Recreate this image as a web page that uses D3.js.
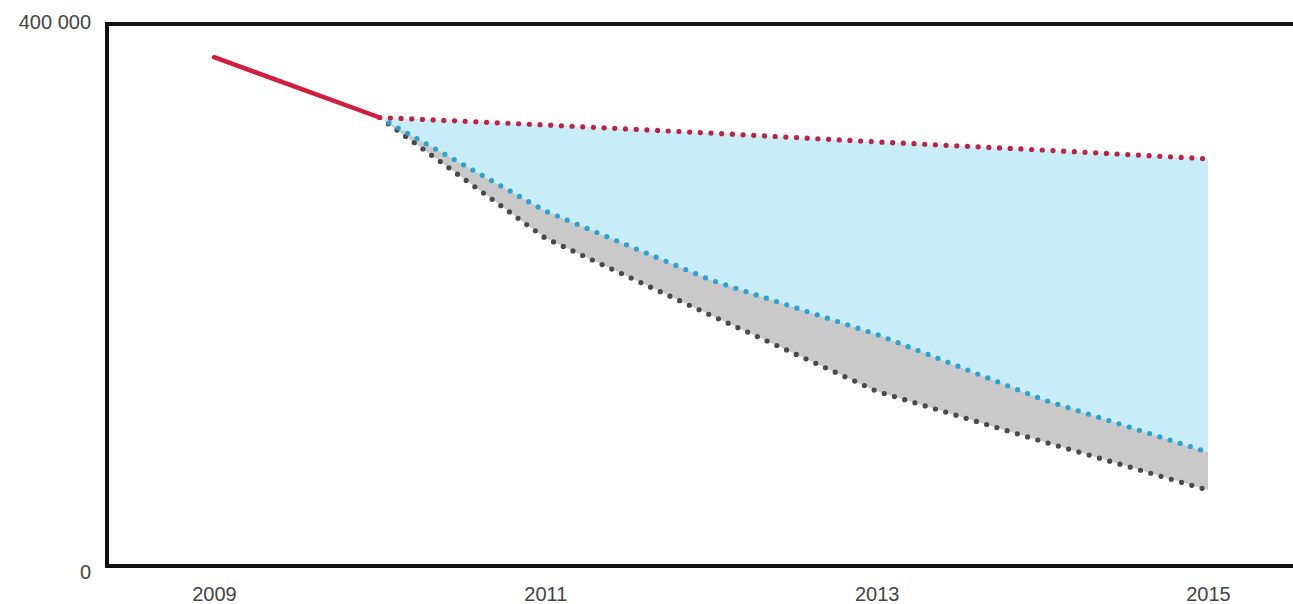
<!DOCTYPE html>
<html>
<head>
<meta charset="utf-8">
<script src="https://cdn.jsdelivr.net/npm/d3@7"></script>
<style>
  html, body { margin: 0; padding: 0; background: #fff; }
  svg { display: block; }
  .tick text { font-family: "Liberation Sans", Arial, sans-serif; font-size: 20px; fill: #444; }
</style>
</head>
<body>
<svg id="chart" width="1293" height="604"></svg>
<script>
// Recorded figures 2009–2010, then three scenarios to 2015
const years = [2009, 2010, 2011, 2012, 2013, 2014, 2015];
const actualYears = [2009, 2010];
const actualValues = [375500, 331000];
const scenarioYears = [2010, 2011, 2012, 2013, 2014, 2015];
const highValues = [331000, 325500, 319500, 313000, 307000, 300500];
const midValues = [331000, 262000, 211000, 171000, 123000, 84000];
const lowValues = [331000, 242000, 185000, 129000, 92000, 56000];
const xTicks = [2009, 2011, 2013, 2015];
const yTicks = [0, 400000];

const svg = d3.select("#chart");
const W = 1293, H = 604;
const frameLeft = 107, frameTop = 24, frameBottom = 566;

const x = d3.scaleLinear().domain([2009, 2015]).range([214, 1208]);
const y = d3.scaleLinear().domain([0, 400000]).range([frameBottom, frameTop]);

const high = scenarioYears.map((yr, i) => ({ yr, v: highValues[i] }));
const mid = scenarioYears.map((yr, i) => ({ yr, v: midValues[i] }));
const low = scenarioYears.map((yr, i) => ({ yr, v: lowValues[i] }));
const actual = actualYears.map((yr, i) => ({ yr, v: actualValues[i] }));

// Shaded bands between the scenarios
const bandHighMid = scenarioYears.map((yr, i) => ({ yr, a: highValues[i], b: midValues[i] }));
const bandMidLow = scenarioYears.map((yr, i) => ({ yr, a: midValues[i], b: lowValues[i] }));

const area = d3.area().x(d => x(d.yr)).y0(d => y(d.b)).y1(d => y(d.a));
svg.append("path").datum(bandHighMid).attr("d", area).attr("fill", "#c8ecf8");
svg.append("path").datum(bandMidLow).attr("d", area).attr("fill", "#c9c9c9");

const line = d3.line().x(d => x(d.yr)).y(d => y(d.v));

function dotted(data, color) {
  svg.append("path").datum(data).attr("d", line)
    .attr("fill", "none").attr("stroke", color)
    .attr("stroke-width", 5.2).attr("stroke-linecap", "round")
    .attr("stroke-dasharray", "0 10.7");
}
dotted(low, "#4a4a4a");
dotted(mid, "#2aa3d3");
dotted(high, "#c41e40");

svg.append("path").datum(actual).attr("d", line)
  .attr("fill", "none").attr("stroke", "#d21d3c")
  .attr("stroke-width", 4.5).attr("stroke-linecap", "round");

// Frame: top, left and bottom edges
svg.append("path")
  .attr("d", `M${W + 5},${frameTop} H${frameLeft} V${frameBottom} H${W + 5}`)
  .attr("fill", "none").attr("stroke", "#111").attr("stroke-width", 4);

const loc = d3.formatLocale({ decimal: ",", thousands: " ", grouping: [3], currency: ["", ""] });

const yAxis = svg.append("g").attr("transform", `translate(91,0)`)
  .call(d3.axisLeft(y).tickValues(yTicks).tickSize(0).tickPadding(0).tickFormat(loc.format(",d")));
yAxis.select(".domain").remove();
yAxis.selectAll(".tick text").attr("dy", (d) => d === 0 ? "0.62em" : "0.22em");

const xAxis = svg.append("g").attr("transform", `translate(0,${frameBottom})`)
  .call(d3.axisBottom(x).tickValues(xTicks).tickSize(0).tickPadding(21).tickFormat(d3.format("d")));
xAxis.select(".domain").remove();
</script>
</body>
</html>
